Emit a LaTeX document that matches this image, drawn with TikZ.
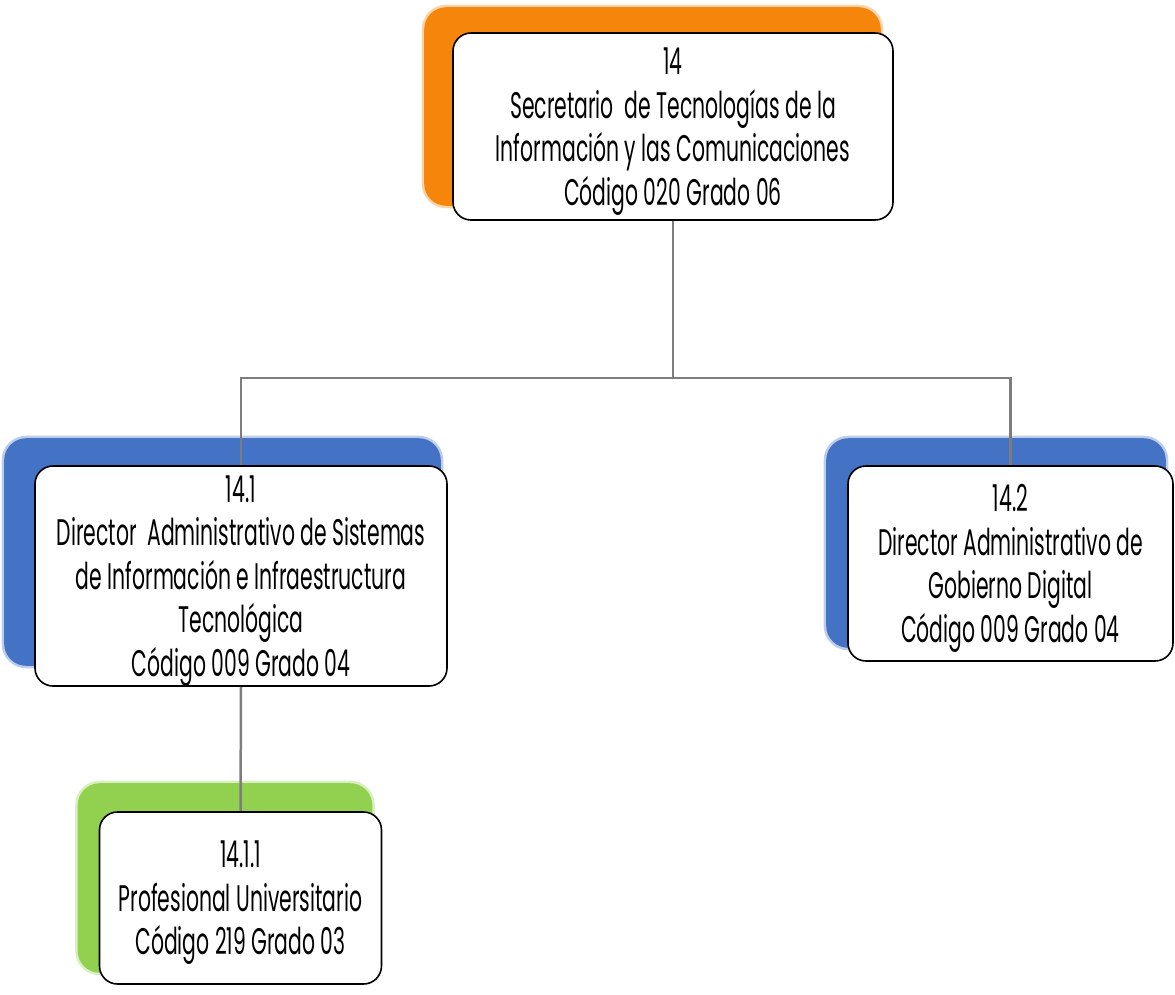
\documentclass[tikz,border=0pt]{standalone}
\usepackage{fontspec}
\setmainfont[FakeStretch=0.55]{Poppins}
\usepackage{tikz}
\definecolor{orgorange}{RGB}{246, 133, 12}
\definecolor{orgblue}{RGB}{68, 114, 196}
\definecolor{orggreen}{RGB}{146, 208, 80}
\definecolor{orggray}{RGB}{125, 125, 125}
\usetikzlibrary{calc,backgrounds}
\tikzset{
  orgbox/.style={draw=black, line width=1.6pt, fill=white, rounded corners=18pt,
    align=center, inner sep=0pt, text depth=0pt, font=\fontsize{37}{43.5}\selectfont},
  orgshade/.style={rounded corners=22pt, line width=5pt, draw opacity=0.35},
  orgline/.style={draw=orggray, line width=2.5pt}
}

\begin{document}
\begin{tikzpicture}[x=1pt, y=-1pt]
            \useasboundingbox (0,0) rectangle (1175,994);
            % Boxes of the chart
            \node[orgbox, minimum width=440pt, minimum height=187pt] (sec) at (673,126.5)
                {14\\Secretario \ de Tecnologías de la\\Información y las Comunicaciones\\Código 020 Grado 06};
            \node[orgbox, minimum width=412pt, minimum height=220pt] (dir1) at (241,576)
                {14.1\\Director \ Administrativo de Sistemas\\de Información e Infraestructura\\Tecnológica\\Código 009 Grado 04};
            \node[orgbox, minimum width=325pt, minimum height=195pt] (dir2) at (1010.5,563.5)
                {14.2\\Director Administrativo de\\Gobierno Digital\\Código 009 Grado 04};
            \node[orgbox, minimum width=282pt, minimum height=172pt] (prof) at (240.5,898)
                {14.1.1\\Profesional Universitario\\Código 219 Grado 03};

            % Coloured blocks behind the boxes
            \begin{pgfonlayer}{background}
                \filldraw[orgorange, orgshade] ($(sec.north west)+(-28,-25)$) rectangle ($(sec.south east)+(-13,-15)$);
                \filldraw[orgblue, orgshade] ($(dir1.north west)+(-30,-27)$) rectangle ($(dir1.south east)+(-7,-21)$);
                \filldraw[orgblue, orgshade] ($(dir2.north west)+(-21,-27)$) rectangle ($(dir2.south east)+(-8,-14)$);
                \filldraw[orggreen, orgshade] ($(prof.north west)+(-21,-28)$) rectangle ($(prof.south east)+(-10,-12)$);
            \end{pgfonlayer}

            % Connectors
            \coordinate (bus) at (673,378);
            \draw[orgline] (sec.south) -- (bus);
            \draw[orgline] (dir1.north) |- (bus) -| (dir2.north);
            \draw[orgline] (dir1.south) -- (prof.north);
\end{tikzpicture}
\end{document}
